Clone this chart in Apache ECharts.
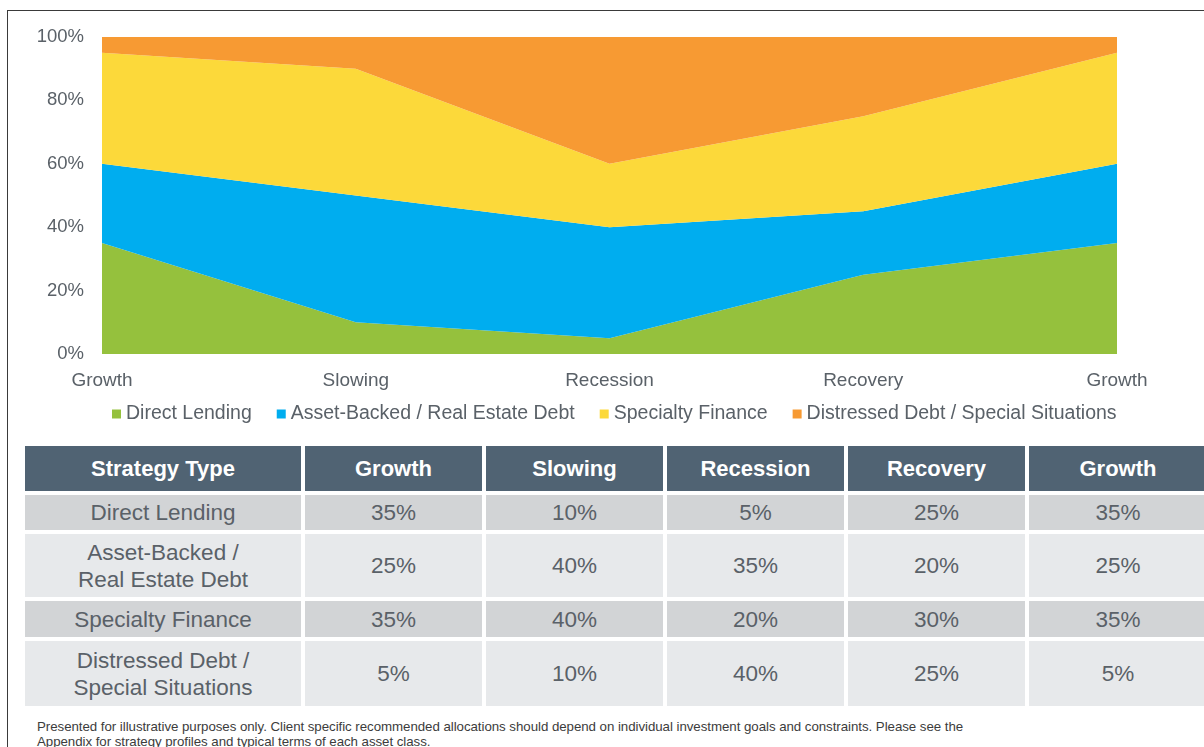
<!DOCTYPE html>
<html>
<head>
<meta charset="utf-8">
<script src="https://cdn.jsdelivr.net/npm/echarts@6/dist/echarts.min.js"></script>
<style>
  html, body { margin: 0; padding: 0; background: #fff; }
  body { width: 1204px; height: 747px; position: relative; overflow: hidden; font-family: "Liberation Sans", Arial, sans-serif; }
  #frame { position: absolute; left: 7px; top: 10px; right: -2px; bottom: -2px; border-left: 1px solid #3a3a3a; border-top: 1px solid #3a3a3a; }
  #chart { position: absolute; left: 0; top: 0; width: 1204px; height: 440px; }
  #table { position: absolute; left: 25px; top: 446px; width: 1182px; display: grid;
           grid-template-columns: 276px 177px 177px 177px 177px 1fr;
           grid-template-rows: 45px 35px 63px 36px 65px; column-gap: 4px; row-gap: 4px; }
  #table div { display: flex; align-items: center; justify-content: center; text-align: center;
               font-size: 22.5px; line-height: 27px; color: #5a6168; white-space: pre-line; }
  #table div.hd { background: #506373; color: #fff; font-weight: bold; font-size: 22px; }
  #table div.dk { background: #d2d4d6; }
  #table div.lt { background: #e7e9eb; }
  #note { position: absolute; left: 37px; top: 719px; font-size: 13.3px; line-height: 15px; color: #3c3c3c; letter-spacing: -0.05px; }
</style>
</head>
<body>
<div id="frame"></div>
<div id="chart"></div>
<div id="table"></div>
<div id="note">Presented for illustrative purposes only. Client specific recommended allocations should depend on individual investment goals and constraints. Please see the<br>Appendix for strategy profiles and typical terms of each asset class.</div>
<script>
// Cycle phases along the x axis
const phases = ['Growth', 'Slowing', 'Recession', 'Recovery', 'Growth'];

// Allocation (%) per strategy at each phase
const directLending = [35, 10, 5, 25, 35];
const assetBacked = [25, 40, 35, 20, 25];
const specialtyFinance = [35, 40, 20, 30, 35];
const distressedDebt = [5, 10, 40, 25, 5];

const strategyNames = ['Direct Lending', 'Asset-Backed / Real Estate Debt', 'Specialty Finance', 'Distressed Debt / Special Situations'];
const tableRowLabels = ['Direct Lending', 'Asset-Backed /\nReal Estate Debt', 'Specialty Finance', 'Distressed Debt /\nSpecial Situations'];
const strategyColors = ['#95c13d', '#00adef', '#fcd93a', '#f79a33'];
const yTicks = [0, 20, 40, 60, 80, 100];

const seriesValues = [directLending, assetBacked, specialtyFinance, distressedDebt];

const chart = echarts.init(document.getElementById('chart'), null, { renderer: 'canvas' });
chart.setOption({
  animation: false,
  textStyle: { fontFamily: '"Liberation Sans", Arial, sans-serif' },
  color: strategyColors,
  grid: { left: 102, right: 87, top: 37, height: 317 },
  legend: {
    data: strategyNames,
    top: 404,
    left: 112,
    padding: 0,
    icon: 'rect',
    itemWidth: 9,
    itemHeight: 9,
    itemGap: 25,
    textStyle: { color: '#5a6168', fontSize: 19.5 }
  },
  xAxis: {
    type: 'category',
    data: phases,
    boundaryGap: false,
    axisLine: { show: false },
    axisTick: { show: false },
    axisLabel: { color: '#5a6168', fontSize: 19, margin: 17 }
  },
  yAxis: {
    type: 'value',
    min: yTicks[0],
    max: yTicks[yTicks.length - 1],
    interval: 20,
    splitLine: { show: false },
    axisLine: { show: false },
    axisTick: { show: false },
    axisLabel: { color: '#5a6168', fontSize: 18.5, margin: 18, formatter: v => v + '%' }
  },
  series: seriesValues.map((vals, i) => ({
    name: strategyNames[i],
    type: 'line',
    stack: 'total',
    data: vals,
    symbol: 'none',
    lineStyle: { width: 0 },
    areaStyle: { color: strategyColors[i], opacity: 1 }
  }))
});

// Allocation table below the chart
const table = document.getElementById('table');
function cell(text, cls) {
  const d = document.createElement('div');
  d.className = cls;
  d.textContent = text;
  table.appendChild(d);
}
cell('Strategy Type', 'hd');
phases.forEach(p => cell(p, 'hd'));
tableRowLabels.forEach((label, r) => {
  const cls = r % 2 === 0 ? 'dk' : 'lt';
  cell(label, cls);
  seriesValues[r].forEach(v => cell(v + '%', cls));
});
</script>
</body>
</html>
